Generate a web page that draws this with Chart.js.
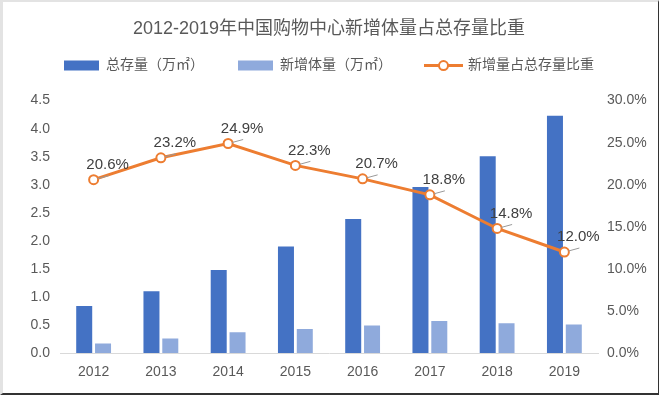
<!DOCTYPE html>
<html lang="zh-CN">
<head>
  <meta charset="UTF-8" />
  <title>2012-2019年中国购物中心新增体量占总存量比重</title>
  <script src="https://cdn.jsdelivr.net/npm/chart.js"></script>
  <style>
    html, body { margin: 0; padding: 0; background: #fff; }
    #frame {
      position: absolute; left: 0; top: 0; width: 655px; height: 391px;
      border-left: 3px solid #e3e3e3; border-top: 2px solid #e3e3e3;
      border-right: 1px solid #333; border-bottom: 2px solid #333;
    }
    #wrap { position: absolute; left: 0; top: 0; width: 660px; height: 397px; }
  </style>
</head>
<body>
  <div id="frame"></div>
  <div id="wrap"><canvas id="chart" width="660" height="397"></canvas></div>

  <script>
    const years = ['2012', '2013', '2014', '2015', '2016', '2017', '2018', '2019'];
    const totalStock = [0.84, 1.10, 1.48, 1.90, 2.39, 2.96, 3.51, 4.23];
    const newAdded = [0.17, 0.26, 0.37, 0.43, 0.49, 0.57, 0.53, 0.51];
    const newShare = [0.206, 0.232, 0.249, 0.223, 0.207, 0.188, 0.148, 0.120];

    const FONT = '"Liberation Sans", "Noto Sans CJK SC", sans-serif';
    const ORANGE = '#ED7D31';

    // 折线点上的百分比标签
    const shareLabels = {
      id: 'shareLabels',
      afterDatasetsDraw(chart) {
        const meta = chart.getDatasetMeta(2);
        const ctx = chart.ctx;
        ctx.save();
        ctx.font = '15px ' + FONT;
        ctx.fillStyle = '#404040';
        ctx.textAlign = 'center';
        ctx.textBaseline = 'middle';
        meta.data.forEach((pt, i) => {
          const x = pt.x, y = pt.y;
          ctx.strokeStyle = '#999';
          ctx.lineWidth = 1;
          ctx.beginPath();
          ctx.moveTo(x + 4, y - 1);
          ctx.lineTo(x + 15, y - 4);
          ctx.stroke();
          ctx.fillText((newShare[i] * 100).toFixed(1) + '%', x + 14, y - 15);
        });
        ctx.restore();
      }
    };

    // 图例中折线的样式（线 + 空心圆）
    const lineLegend = {
      id: 'lineLegend',
      afterDraw(chart) {
        const lg = chart.legend;
        const idx = lg.legendItems.findIndex(it => it.datasetIndex === 2);
        const box = lg.legendHitBoxes[idx];
        if (!box) return;
        const ctx = chart.ctx;
        const cy = box.top + box.height / 2;
        const x0 = box.left - 2, x1 = box.left + 37;
        ctx.save();
        ctx.strokeStyle = ORANGE;
        ctx.lineWidth = 3;
        ctx.beginPath();
        ctx.moveTo(x0, cy);
        ctx.lineTo(x1, cy);
        ctx.stroke();
        ctx.beginPath();
        ctx.arc((x0 + x1) / 2, cy, 4.5, 0, Math.PI * 2);
        ctx.fillStyle = '#fff';
        ctx.fill();
        ctx.lineWidth = 2;
        ctx.stroke();
        ctx.restore();
      }
    };

    const tickFont = { family: FONT, size: 14 };

    new Chart(document.getElementById('chart'), {
      data: {
        labels: years,
        datasets: [
          {
            type: 'bar',
            label: '总存量（万㎡）',
            data: totalStock,
            backgroundColor: '#4472C4',
            xAxisID: 'x',
            yAxisID: 'y',
            order: 2,
            categoryPercentage: 0.56,
            barPercentage: 0.85
          },
          {
            type: 'bar',
            label: '新增体量（万㎡）',
            data: newAdded,
            backgroundColor: '#8FAADC',
            xAxisID: 'x',
            yAxisID: 'y',
            order: 2,
            categoryPercentage: 0.56,
            barPercentage: 0.85
          },
          {
            type: 'line',
            label: '新增量占总存量比重',
            data: newShare,
            borderColor: ORANGE,
            backgroundColor: '#fff',
            borderWidth: 3,
            pointRadius: 4.5,
            pointBorderWidth: 2,
            pointBackgroundColor: '#fff',
            pointBorderColor: ORANGE,
            xAxisID: 'x',
            yAxisID: 'y1',
            order: 1
          }
        ]
      },
      options: {
        responsive: false,
        animation: false,
        layout: { padding: { left: 4, right: 6, top: 6, bottom: 14 } },
        plugins: {
          tooltip: { enabled: false },
          title: {
            display: true,
            text: '2012-2019年中国购物中心新增体量占总存量比重',
            color: '#595959',
            font: { family: FONT, size: 18, weight: 'normal' },
            padding: { top: 12, bottom: -15 }
          },
          legend: {
            position: 'top',
            labels: {
              color: '#595959',
              font: { family: FONT, size: 14 },
              boxWidth: 35,
              boxHeight: 10,
              padding: 34,
              sort: (a, b) => a.datasetIndex - b.datasetIndex,
              generateLabels(chart) {
                const items = Chart.defaults.plugins.legend.labels.generateLabels(chart);
                items.forEach(it => {
                  it.lineWidth = 0;
                  if (it.datasetIndex === 2) {
                    it.fillStyle = 'rgba(0,0,0,0)';
                    it.strokeStyle = 'rgba(0,0,0,0)';
                  }
                });
                return items;
              }
            }
          }
        },
        scales: {
          x: {
            grid: { display: false, drawTicks: false },
            border: { display: true, color: '#d9d9d9', width: 1 },
            ticks: { color: '#595959', font: tickFont, padding: 11 },
            afterFit(s) { s.height = 30; }
          },
          // 空白顶轴，只用来在图例和绘图区之间留出距离
          gap: {
            type: 'linear',
            position: 'top',
            min: 0,
            max: 1,
            grid: { display: false, drawTicks: false },
            border: { display: false },
            ticks: { display: false },
            afterFit(s) { s.height = 18; }
          },
          y: {
            position: 'left',
            min: 0,
            max: 4.5,
            grid: { display: false, drawTicks: false },
            border: { display: false },
            ticks: {
              stepSize: 0.5,
              color: '#595959',
              font: tickFont,
              padding: 10,
              callback: v => v.toFixed(1)
            },
            afterFit(s) { s.width = 56; }
          },
          y1: {
            position: 'right',
            min: 0,
            max: 0.3,
            grid: { display: false, drawTicks: false },
            border: { display: false },
            ticks: {
              stepSize: 0.05,
              color: '#595959',
              font: tickFont,
              padding: 9,
              callback: v => (v * 100).toFixed(1) + '%'
            },
            afterFit(s) { s.width = 56; }
          }
        }
      },
      plugins: [shareLabels, lineLegend]
    });
  </script>
</body>
</html>
